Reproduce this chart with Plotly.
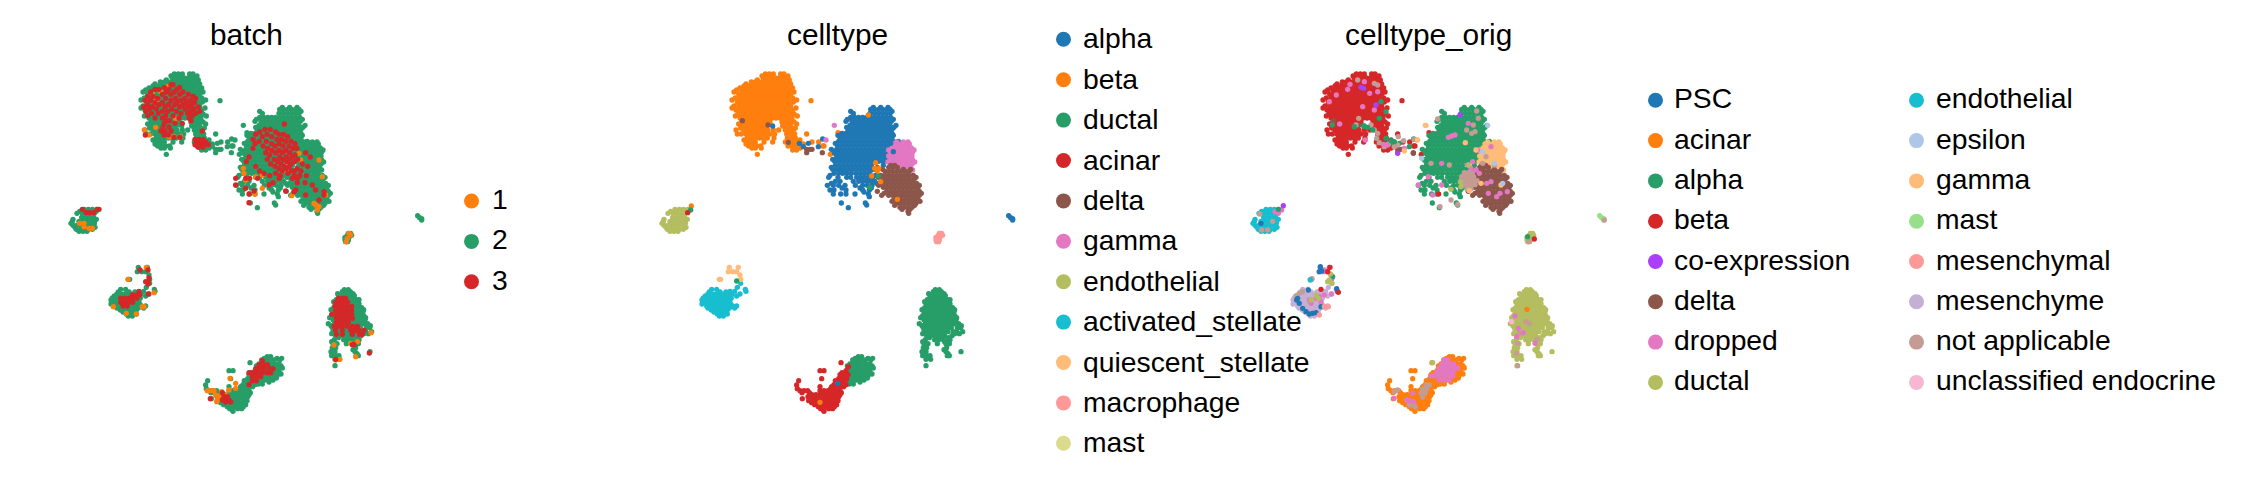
import plotly.graph_objects as go

beta = [
(72,[376,388,400,422,432]),
(78,[366,444]),
(84,[370,382,394,406,418,430,440]),
(90,[352,448]),
(96,[334,346,358,370,382,394,406,418,430,442]),
(102,[318,452]),
(108,[312,324,336,348,360,372,384,396,408,420,432,444]),
(114,[300,458]),
(120,[290,306,318,330,342,354,366,378,390,402,414,426,438,450]),
(126,[282,462]),
(132,[296,308,320,332,344,356,368,380,392,404,416,428,440,452]),
(144,[286,300,312,324,336,348,360,372,384,396,408,420,432,444,458]),
(150,[276,470]),
(156,[292,304,316,328,340,352,364,376,388,400,412,424,436,448,460]),
(168,[282,296,308,320,332,344,356,368,380,392,404,416,428,440,452]),
(174,[276,468]),
(180,[288,300,312,324,336,348,360,372,384,396,408,420,432,444,458]),
(192,[294,306,318,330,342,354,366,378,390,402,414,426,438,450,462]),
(198,[286,472]),
(204,[300,312,324,336,348,360,372,384,396,408,420,432,444,456]),
(216,[306,318,330,342,354,366,378,390,426,438,450,462]),
(222,[296,470]),
(228,[308,320,332,344,356,368,380,428,440,452]),
(234,[302,466]),
(240,[288,312,324,336,348,360,372,384,400,416,436,448,460]),
(252,[292,304,318,330,342,354,366,378,390,404,440,452,464,500]),
(264,[322,334,346,358,370,382,402,442,454,466]),
(270,[312,480]),
(276,[322,334,346,372,398,436,448,460,472,516,536]),
(282,[318,490]),
(288,[326,338,350,362,444,456,468,482,548,552]),
(294,[336,346,364,480]),
(300,[458,470]),
(313,[352,571]),
(152,[513]),
(248,[594]),
]
alpha = [
(172,[700,722,744]),
(178,[692,704,716,728,740,750]),
(184,[632,756]),
(190,[640,690,702,714,726,738,750]),
(202,[632,644,656,668,680,692,704,716,728,740,752]),
(208,[622,760]),
(214,[618,636,648,660,672,684,696,708,720,732,744,754]),
(226,[630,642,654,666,678,690,702,714,726,738,750,768]),
(232,[620,762]),
(238,[624,636,648,660,672,684,696,708,720,732,744,756]),
(250,[606,618,630,642,654,666,678,690,702,714,726,738,750,756]),
(256,[594,760]),
(262,[600,612,624,636,648,660,672,684,696,708,720,732,744,756]),
(274,[596,608,620,632,644,656,668,680,692,704,716,728,740,750,760,775]),
(280,[586,756]),
(286,[592,604,616,628,640,652,664,676,688,700,712,724,736,748]),
(298,[574,590,602,614,626,638,650,662,674,686,698,710,722,734,746]),
(304,[582,750]),
(310,[584,596,608,620,632,644,656,668,680,692,704,716,728,742,758]),
(322,[590,602,614,626,638,650,662,674,686,698,710,722,734,746]),
(328,[578,752]),
(334,[584,596,608,620,632,644,656,668,680,692,704,716,728,740]),
(346,[586,598,610,622,634,646,658,670,682,694,730]),
(352,[574,712]),
(358,[578,590,602,614,626,638,650,662,674,686,698,706]),
(370,[582,596,608,620,634,648,660,672,684,690]),
(376,[570,706]),
(382,[566,594,620,632,650,662,674,686,698]),
(394,[586,600,640,656,668,680,692,704]),
(400,[574,710]),
(406,[562,580,596,615,646,668,682,696]),
(414,[606,660,694]),
(420,[570,582,618,668,688]),
(426,[672]),
(432,[580,602,618,645,685]),
(440,[688]),
(459,[604,676]),
(473,[625]),
(465,[680]),
(280,[478,505]),
(290,[490,535]),
(267,[548]),
(228,[398]),
]
gamma = [
(276,[770,790,804]),
(282,[762,774,786,798,808]),
(294,[756,768,780,792,804,814]),
(300,[746,822]),
(306,[752,764,776,788,800,812,818]),
(318,[746,758,770,782,794,806,816]),
(330,[750,762,774,786,798,810,818]),
(336,[744,824]),
(342,[756,768,780,792,804,816]),
(354,[776,788,800,812]),
(360,[782,818]),
(366,[796,808]),
(372,[802]),
(226,[583]),
(270,[558]),
]
delta = [
(346,[752,764]),
(352,[746,758,772]),
(358,[728,790,812]),
(364,[735,747,759,771,783,795,807]),
(376,[722,734,746,758,770,782,794,806,820]),
(382,[714,828]),
(388,[726,738,750,762,774,786,798,810,822]),
(400,[722,734,746,758,770,782,794,806,818,830]),
(406,[716,838]),
(412,[730,742,754,766,778,790,802,814,826,834]),
(424,[712,740,752,764,776,788,800,812,824,838]),
(430,[732,844]),
(436,[725,746,758,770,782,794,806,818,830,838]),
(448,[762,774,786,798,810,822,834]),
(454,[756,840]),
(460,[770,782,794,806,818,828]),
(466,[764,824]),
(472,[780,792,804,816]),
(478,[786,810]),
(484,[804]),
(490,[806]),
(212,[307]),
(225,[384]),
(277,[445]),
(298,[500,510,516]),
(308,[500,547]),
]
ductal_main = [
(719,[886,898]),
(725,[880,892,904]),
(731,[866,912]),
(737,[870,882,894,906,916]),
(749,[862,874,886,898,910,922,930]),
(755,[854,926]),
(761,[858,870,882,894,906,918,930]),
(773,[854,866,878,890,902,914,926,938]),
(779,[846,944]),
(785,[852,864,876,888,900,912,924,936,942]),
(797,[848,860,872,884,896,908,920,932,944]),
(803,[842,950]),
(809,[852,864,876,888,900,912,924,936,948]),
(821,[838,856,868,880,892,904,916,928,940,944,956]),
(827,[846,964]),
(833,[850,862,874,886,898,910,922,934,952,962]),
(845,[852,864,876,888,900,912,924,940,950,968]),
(851,[848,958,944]),
(857,[860,872,884,894,904,914,936]),
(863,[868,902,926]),
(869,[856,884,896,910,924,930]),
(875,[848,914]),
(881,[852,864,892,918,928]),
(893,[850,860,920]),
(899,[852,912]),
(905,[846,858,918,963]),
(911,[852,924]),
(917,[848,860,870,928,922]),
(923,[866]),
(928,[858,872]),
(947,[858]),
]
ductal_head = [
(920,[655,665]),
(925,[646,684,698]),
(930,[638,650,662,676,692]),
(942,[630,642,654,666,678,690]),
(948,[622,696]),
(954,[628,640,652,664,676,688,700]),
(966,[630,642,654,666,678,690]),
(972,[624,696]),
(978,[626,638,650,662,674,684]),
(984,[668,682]),
(990,[624,636,648,660,672]),
(996,[620,660]),
(1002,[628,640]),
]
acinar = [
(938,[603]),
(950,[625]),
(962,[540,552,618]),
(968,[606]),
(974,[600,612,624]),
(986,[545,596,608,620]),
(992,[476,586]),
(998,[590,602,614]),
(1004,[582,618]),
(1005,[470]),
(1010,[540,575,587,599,611]),
(1016,[472,572]),
(1022,[480,492,503,540,552,564,576,588,600]),
(1028,[486,508,604]),
(1034,[516,528,540,552,564,576,588,600]),
(1040,[504,596]),
(1046,[487,510,522,534,546,558,570,582,590]),
(1052,[506,594]),
(1058,[515,527,539,551,563,575,587]),
(1064,[524,578,590]),
(1070,[535,547,559,571,583]),
(1076,[542,566,578]),
(1080,[550]),
(1084,[552]),
]
endothelial = [
(478,[105,118,130,143]),
(484,[92,142]),
(490,[84,100,112,124,136]),
(502,[98,110,122,134]),
(508,[72,142]),
(514,[70,90,102,114,126,136]),
(520,[66,136]),
(526,[72,84,96,108,120,132]),
(532,[78,138]),
(538,[82,94,106,118,130]),
(544,[90,102,114]),
]
activated_stellate = [
(700,[302]),
(712,[292]),
(718,[215,230,316]),
(724,[270,284,318]),
(726,[208,240,258]),
(732,[204,216,228,240,252,264,276,300]),
(738,[196,290]),
(744,[190,202,214,226,238,250,262,274]),
(750,[186,270]),
(756,[192,204,216,228,240,252,264]),
(762,[186,272]),
(768,[200,212,224,236,248,260,278,290]),
(774,[204,268,284]),
(780,[214,226,238,250,262]),
(786,[222,256]),
(792,[232,244,262]),
(798,[238,250]),
]
quiescent_stellate = [
(652,[268,295]),
(665,[265,278,290]),
(675,[300]),
(688,[238,242,302]),
]
macrophage = [(550,[905,898]),(556,[895,908]),(562,[888,900]),(570,[888,898]),(575,[890,896])]
small_right = [(497,[1106]),(503,[1112]),(506,[1118]),(510,[1118])]
orange_in_celltype = [(378,[695]),(338,[707]),(355,[704,716]),(362,[712]),(395,[722]),(195,[685]),(1057,[540]),(468,[154]),(448,[772])]
green_in_celltype = [(412,[690]),(378,[715]),(480,[152]),(693,[290])]
red_in_celltype = [(488,[143])]
blue_in_celltype = [(1000,[593]),(305,[760]),(280,[752])]

# batch overlays
batch1 = [
(240,[286]),(255,[300]),(130,[310]),(150,[323]),(125,[335]),(110,[355]),(205,[380]),(260,[375,395,360]),(232,[320]),
(355,[583]),(370,[585]),(390,[590]),(380,[620]),(375,[640]),(432,[618]),(415,[640]),(437,[728]),(310,[750]),(330,[755,810]),(380,[820]),(435,[830]),
(465,[800]),(480,[805]),(460,[795]),(470,[810]),
(520,[92,105]),(535,[130,120]),(530,[105]),
(652,[292]),(688,[237]),(770,[285,280,193]),(792,[262]),(790,[232]),(728,[315]),
(550,[900]),(555,[905]),(565,[895]),(575,[892]),
(848,[966]),(885,[855]),(930,[860]),(928,[872]),(920,[920]),(880,[905]),(875,[925]),
(1022,[475,485,495]),(1035,[500,530]),(1050,[505]),(1055,[503]),(1045,[520]),(985,[543]),(1020,[540]),(1015,[560]),(1025,[518]),(1038,[510]),(1000,[560]),
]
batch3 = [
(104,[372,366]),(112,[346,392]),(118,[318,330,360,384]),(126,[305,352,376,402]),
(133,[340,366,392,418]),(139,[296,312,432]),(145,[326,350,380,408,440]),(151,[288,304,366,396,424]),
(158,[318,340,384,412,436]),(164,[296,330,358,376,402,428]),(171,[284,310,348,392,418,448]),
(177,[300,322,368,408,434]),(184,[290,340,356,382,424,452]),(190,[308,328,396,416,440]),
(197,[296,350,372,430]),(204,[318,340,390,420]),(212,[362,352,426]),(220,[346,378,400]),
(231,[342,360]),(243,[336,348,366,460]),(255,[289,358,345]),(262,[393,375]),
(268,[438,450,462]),(276,[444,456,470]),(284,[438,452,464,478]),(292,[448,462]),
(222,[706]),(238,[648,664]),(246,[632,680]),(253,[620,654,690,704]),(260,[640,668,716]),
(268,[612,684,698]),(274,[630,652,710,726]),(281,[618,668,690,738]),(288,[642,678,702,720]),
(295,[612,656,732,744]),(301,[668,690,710]),(308,[650,680,700,722,770]),(315,[662,738]),
(321,[600,692,712,730,784]),(328,[655,676,702,720,746]),(335,[592,686,714,736]),
(342,[665,696,726,760]),(349,[620,678,706,720,776]),(356,[690,712,744]),
(363,[632,700,726,736,756]),(370,[645,680,716]),(377,[662,694,736,752,772]),
(385,[560,590,602,626,690,730,745]),(398,[672,768,745]),
(405,[790,560]),(420,[800,740]),(425,[825,735]),(435,[825,770]),(450,[810]),
(415,[590]),(432,[600]),(423,[615,710]),(458,[600]),(405,[660]),
(478,[100,145,150]),(488,[112,122,134]),
(660,[297,273]),(683,[300]),(695,[290,298]),(702,[297]),(732,[298]),
(725,[270]),(735,[250,262,272]),(745,[215,227,239,251,263]),(757,[215,227,239,251]),(768,[222,235]),
(745,[868,880,890]),
(757,[860,872,884,896]),
(769,[858,870,882,894,908]),
(781,[860,872,884,896,908]),
(793,[848,860,872,884,896,908]),
(805,[862,874,886,898,910]),
(817,[862,874,886,898]),
(829,[855,868,880,895,910,925]),
(841,[860,880,905,918,930,945]),
(853,[862,880,910,930,940]),
(884,[915,910]),(928,[860]),(909,[961]),
(932,[640]),(944,[630,642,655]),(956,[620,632,644,660,672]),(968,[600,612,625,640,655,665]),(980,[610,622,635]),(992,[610,622]),(1004,[600]),
(1028,[520]),(1040,[525,535]),(1050,[520,530,540]),(1046,[484]),(1056,[530,545]),
]

# celltype_orig overlays
orig_PSC = [
(750,[197]),(760,[205]),(745,[200]),(775,[215]),(785,[225]),(792,[235]),(790,[245]),(788,[255]),(720,[232]),(770,[270]),
(650,[268]),(665,[265]),(663,[272]),(716,[317]),(724,[320]),(520,[90]),
]
orig_acinar = [(778,[888])]
orig_alpha = [
(225,[304]),(230,[370]),(228,[400]),(232,[410]),(240,[425]),(265,[465]),(272,[480]),(275,[490]),(185,[465]),(205,[445]),(155,[450]),
(680,[305]),(478,[142]),(560,[890]),
]
orig_beta = [(432,[623]),(718,[270]),(652,[297]),(665,[290]),(727,[322]),(567,[910])]
orig_coexp = [(112,[390]),(115,[398]),(165,[435]),(195,[687]),(310,[500]),(467,[157])]
orig_delta = [(310,[547])]
orig_dropped = [
(155,[295]),(135,[316]),(118,[350]),(103,[357]),(222,[326]),(130,[416]),(125,[440]),(180,[430]),(170,[395]),(95,[400]),
(283,[458]),(285,[470]),(270,[403]),(295,[520]),
(220,[712]),(258,[662]),(262,[652]),(255,[672]),(340,[632]),(380,[592]),(405,[562]),(435,[605]),(405,[632]),(345,[710]),(355,[720]),(360,[735]),(370,[745]),(335,[725]),(300,[740]),(290,[780]),
(400,[767]),(430,[807,772]),(425,[829]),(440,[797]),(395,[780]),
(798,[852]),(848,[877]),(835,[862]),(880,[912]),(860,[857]),
(930,[640,650]),(942,[632,644,656,668]),(954,[624,636,648,660,672,680]),(966,[618,630,642,654,666]),(978,[600,612,624,640,655,665]),(990,[625,640,655]),
(1050,[527]),(1052,[538]),(1055,[548]),(1030,[545]),(1045,[489]),
(485,[132]),(490,[142]),(480,[152]),
(745,[255]),(740,[265]),(755,[270]),(735,[280]),(760,[240]),(750,[235]),
(660,[280]),(732,[302]),
]
orig_ductal = [
(410,[690]),(418,[660]),(345,[714]),(396,[688]),
(938,[605]),
(750,[240]),(745,[262]),(735,[255]),(690,[295]),(700,[303]),(695,[290]),(672,[298]),
]
orig_endothelial = [(690,[238])]
orig_epsilon = [(226,[770]),(325,[572]),(305,[755]),(340,[790]),(400,[815])]
orig_gamma = [(226,[585]),(278,[703]),(300,[735]),(422,[715]),(400,[750]),(405,[810]),(270,[560]),(303,[520])]
orig_mesenchymal = [(770,[280,292]),(795,[265])]
orig_not_applicable = [
(90,[380]),(105,[440]),(100,[430]),(205,[383]),(225,[375,420]),
(240,[430]),(250,[440]),(265,[437]),(278,[445]),(290,[460,490]),(282,[472]),(285,[500]),(272,[518]),(260,[502]),(268,[550]),
(183,[737]),(205,[742]),(225,[727]),(245,[732]),(240,[707]),(250,[722]),(207,[620]),(470,[627]),(463,[680]),(450,[660]),(345,[655]),(340,[600]),
(368,[700,712,724]),(380,[692,704,716,728]),(392,[690,702,714,726,738]),(404,[696,708,720,732]),(416,[708,720]),
(320,[765]),(340,[755]),(345,[790]),
(910,[857]),(947,[860]),(880,[860]),(850,[865]),(815,[885]),(820,[895]),(868,[918]),
(1005,[585,595]),(1017,[575,587]),(1029,[570,582]),(1041,[575]),(1065,[535,548]),(1070,[552]),(1025,[490]),(1020,[500]),
(492,[86]),(514,[125]),(540,[92,110]),
(738,[195]),(730,[205]),(725,[215]),(686,[243]),
(575,[893]),(510,[1120]),
]
orig_unclassified = [(815,[842])]

# Legends
batch_labels = ["1", "2", "3"]
batch_colors = ["#ff7f0e", "#279e68", "#d62728"]
celltype_labels = ["alpha", "beta", "ductal", "acinar", "delta", "gamma", "endothelial",
                   "activated_stellate", "quiescent_stellate", "macrophage", "mast"]
celltype_colors = ["#1f77b4", "#ff7f0e", "#279e68", "#d62728", "#8c564b", "#e377c2", "#b5bd61",
                   "#17becf", "#ffbb78", "#ff9896", "#dbdb8d"]
orig_labels = ["PSC", "acinar", "alpha", "beta", "co-expression", "delta", "dropped", "ductal",
               "endothelial", "epsilon", "gamma", "mast", "mesenchymal", "mesenchyme",
               "not applicable", "unclassified endocrine"]
orig_colors = ["#1f77b4", "#ff7f0e", "#279e68", "#d62728", "#aa40fc", "#8c564b", "#e377c2", "#b5bd61",
               "#17becf", "#aec7e8", "#ffbb78", "#98df8a", "#ff9896", "#c5b0d5", "#c49c94", "#f7b6d2"]
BC = dict(zip(batch_labels, batch_colors))
CC = dict(zip(celltype_labels, celltype_colors))
OC = dict(zip(orig_labels, orig_colors))

W, H = 2245, 484
PANEL_LEFT = [49, 640, 1231]
PANEL_SIZE = 400
PANEL_TOP = 50
DOT = 5.3
FONT = "Liberation Sans"
TEXT = "#000000"


def expand(rows):
    xs, ys = [], []
    for y, row in rows:
        for x in row:
            xs.append(x)
            ys.append(y)
    return xs, ys


fig = go.Figure()


def add(panel, rows, color):
    xs, ys = expand(rows)
    suffix = "" if panel == 1 else str(panel)
    fig.add_trace(go.Scatter(x=xs, y=ys, mode="markers", xaxis="x" + suffix, yaxis="y" + suffix,
                             marker=dict(size=DOT, color=color, line=dict(width=0)),
                             cliponaxis=False, showlegend=False, hoverinfo="skip"))


everything = (beta + alpha + gamma + delta + ductal_main + ductal_head + acinar + endothelial +
              activated_stellate + quiescent_stellate + macrophage + small_right)
# panel 1: batch
add(1, everything, BC["2"])
add(1, batch1, BC["1"])
add(1, batch3, BC["3"])

# panel 2: celltype
for rows, name in [(beta, "beta"), (alpha, "alpha"), (gamma, "gamma"), (delta, "delta"),
                   (ductal_main, "ductal"), (ductal_head, "ductal"), (acinar, "acinar"),
                   (endothelial, "endothelial"), (activated_stellate, "activated_stellate"),
                   (quiescent_stellate, "quiescent_stellate"), (macrophage, "macrophage"),
                   (small_right, "alpha")]:
    add(2, rows, CC[name])
add(2, orange_in_celltype, CC["beta"])
add(2, green_in_celltype, CC["ductal"])
add(2, red_in_celltype, CC["acinar"])
add(2, blue_in_celltype, CC["alpha"])

# panel 3: celltype_orig
for rows, name in [(beta, "beta"), (alpha, "alpha"), (gamma, "gamma"), (delta, "delta"),
                   (ductal_main, "ductal"), (ductal_head, "acinar"), (acinar, "acinar"),
                   (endothelial, "endothelial"), (activated_stellate, "mesenchyme"),
                   (quiescent_stellate, "dropped"), (macrophage, "ductal"), (small_right, "mast")]:
    add(3, rows, OC[name])
for rows, name in [(orig_not_applicable, "not applicable"), (orig_dropped, "dropped"), (orig_PSC, "PSC"),
                   (orig_alpha, "alpha"), (orig_ductal, "ductal"), (orig_beta, "beta"),
                   (orig_gamma, "gamma"), (orig_epsilon, "epsilon"), (orig_coexp, "co-expression"),
                   (orig_delta, "delta"), (orig_acinar, "acinar"), (orig_endothelial, "endothelial"),
                   (orig_mesenchymal, "mesenchymal"), (orig_unclassified, "unclassified endocrine")]:
    add(3, rows, OC[name])

layout = dict(width=W, height=H, margin=dict(l=0, r=0, t=0, b=0), paper_bgcolor="white",
              plot_bgcolor="rgba(0,0,0,0)", autosize=False)
for i, left in enumerate(PANEL_LEFT, start=1):
    s = "" if i == 1 else str(i)
    layout["xaxis" + s] = dict(domain=[left / W, (left + PANEL_SIZE) / W], range=[0, 1200], visible=False,
                               anchor="y" + s, fixedrange=True)
    layout["yaxis" + s] = dict(domain=[1 - (PANEL_TOP + PANEL_SIZE) / H, 1 - PANEL_TOP / H], range=[1200, 0],
                               visible=False, anchor="x" + s, fixedrange=True)
layout["xaxis4"] = dict(domain=[0, 1], range=[0, W], visible=False, anchor="y4", fixedrange=True)
layout["yaxis4"] = dict(domain=[0, 1], range=[H, 0], visible=False, anchor="x4", fixedrange=True)
fig.update_layout(**layout)

annotations = []


def label(x, y, text, size, anchor="left"):
    annotations.append(dict(x=x, y=y, xref="x4", yref="y4", text=text, showarrow=False, xanchor=anchor,
                            yanchor="middle", xshift=0, borderpad=0,
                            font=dict(family=FONT, size=size, color=TEXT)))


def legend(labels, colors, mx, tx, y0, step, nudge):
    ys = [y0 + step * i for i in range(len(labels))]
    fig.add_trace(go.Scatter(x=[mx] * len(labels), y=ys, mode="markers", xaxis="x4", yaxis="y4",
                             marker=dict(size=15, color=colors, line=dict(width=0)),
                             cliponaxis=False, showlegend=False, hoverinfo="skip"))
    for t, y in zip(labels, ys):
        label(tx, y + nudge, t, 28.3)


legend(batch_labels, batch_colors, 471.5, 491, 201, 40.4, -2)
legend(celltype_labels, celltype_colors, 1063.5, 1082, 39.3, 40.4, -1)
legend(orig_labels[:8], orig_colors[:8], 1655.5, 1673, 100.3, 40.3, -2)
legend(orig_labels[8:], orig_colors[8:], 1916.5, 1935, 100.3, 40.3, -2)

label(246, 34, "batch", 29.8, "center")
label(837, 34, "celltype", 29.8, "center")
label(1428, 34, "celltype_orig", 29.8, "center")
fig.update_layout(annotations=annotations)

fig.write_html("out.html", post_script="document.body.style.margin='0';document.body.style.overflow='hidden';",
               config=dict(displayModeBar=False))
